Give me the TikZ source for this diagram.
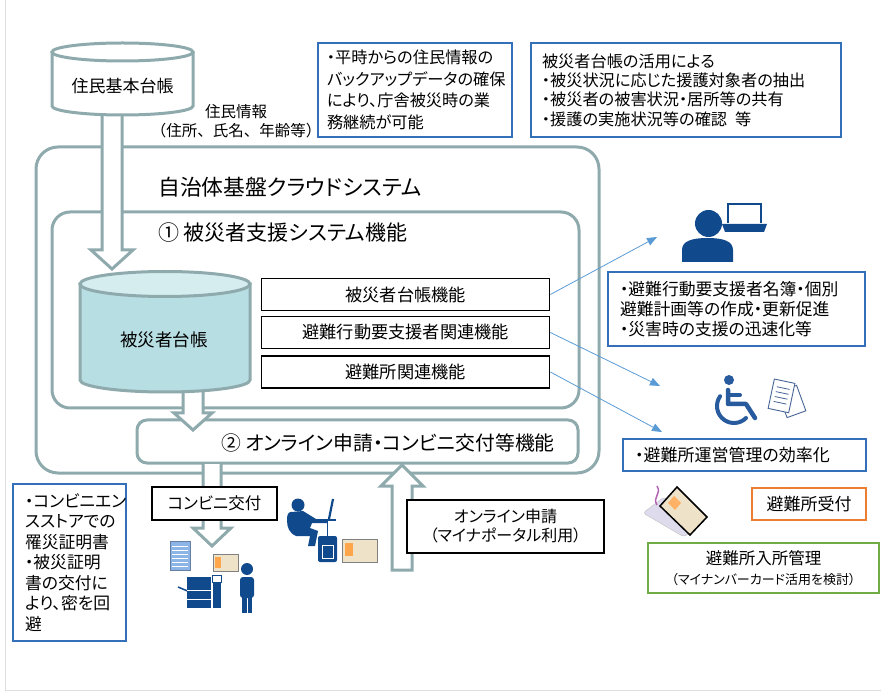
\documentclass[tikz,border=0pt]{standalone}
\usepackage{fontspec}
\setmainfont{Noto Sans CJK JP}[RawFeature=+palt]
\newfontfamily\fullwidth{Noto Sans CJK JP}
\usepackage{xcolor}
\usetikzlibrary{arrows.meta,positioning}

\definecolor{framegray}{RGB}{143,170,173}
\definecolor{dbbody}{RGB}{183,222,226}
\definecolor{dbtop}{RGB}{214,237,240}
\definecolor{noteblue}{RGB}{52,112,185}
\definecolor{linkblue}{RGB}{91,155,213}
\definecolor{iconblue}{RGB}{16,74,140}
\definecolor{chairblue}{RGB}{40,90,158}
\definecolor{docline}{RGB}{70,100,150}
\definecolor{docblue}{RGB}{140,180,230}
\definecolor{cardbeige}{RGB}{238,226,200}
\definecolor{padgray}{RGB}{222,220,236}
\definecolor{orangeline}{RGB}{237,125,49}
\definecolor{greenline}{RGB}{112,173,71}

\newcommand{\jfont}[2]{\fontsize{#1}{#2}\selectfont}

\begin{document}
\begin{tikzpicture}[
  x=1pt, y=-1pt,
  frame/.style={draw=framegray, line width=3pt},
  hollow/.style={draw=framegray, line width=3pt, fill=white, line join=miter},
  dbline/.style={draw=framegray, line width=3pt},
  fnbox/.style={draw, line width=1.2pt, fill=white, minimum width=288pt, minimum height=32pt, font=\jfont{17.2}{20}},
  note/.style={draw=noteblue, line width=1.3pt, fill=white, align=left, inner ysep=0pt},
  plainbox/.style={draw, line width=1.2pt, fill=white, align=center},
  link/.style={draw=linkblue, line width=0.8pt, -{Triangle[length=10pt,width=8pt]}},
  heading/.style={anchor=west, inner sep=0pt},
]
\useasboundingbox (0,0) rectangle (881,692);
\draw[gray!25, line width=1pt] (5,0) -- (5,690) -- (881,690);

% cloud system and its parts
\node[frame, rounded corners=22pt, minimum width=563pt, minimum height=326pt] (cloud) at (317.5,310) {};
\node[frame, rounded corners=18pt, minimum width=527pt, minimum height=196pt] (supportsys) at (315.5,310) {};
\node[frame, fill=white, rounded corners=10pt, minimum width=441pt, minimum height=43pt] (onlinefn) at (357.5,441.5) {};

% hollow arrows
\filldraw[hollow] (102,112) -- (102,250) -- (91,250) -- (112,269) -- (133,250) -- (122,250) -- (122,112);
\filldraw[hollow] (183,385) -- (183,413) -- (174,413) -- (193,430) -- (212,413) -- (203,413) -- (203,385);
\filldraw[hollow] (203,464) -- (203,528) -- (193,528) -- (212,546) -- (231,528) -- (221,528) -- (221,464);
\filldraw[hollow] (392,570) -- (392,486) -- (381,486) -- (402,465) -- (423,486) -- (412,486) -- (412,570) -- cycle;

% resident register
\filldraw[dbline, fill=white] (52,52) -- (52,106) arc[start angle=180, end angle=0, x radius=70.5, y radius=9] -- (193,52);
\draw[dbline] (122.5,52) ellipse[x radius=70.5, y radius=9];
\node[font=\jfont{17}{20}] (resreg) at (122.5,86) {住民基本台帳};
\node[align=center, font=\fullwidth\jfont{15.5}{19}] (resinfo) at (236,121) {住民情報\\（住所、氏名、年齢等）};

% victim ledger
\filldraw[dbline, fill=dbbody] (80,284) -- (80,380) arc[start angle=180, end angle=0, x radius=85, y radius=12] -- (250,284) -- cycle;
\filldraw[dbline, fill=dbtop] (165,284) ellipse[x radius=85, y radius=12.5];
\node[font=\jfont{17.5}{20}] (ledger) at (164,340) {被災者台帳};

\node[heading, font=\jfont{21.8}{24}] (cloudtitle) at (158,187) {自治体基盤クラウドシステム};
\node[heading, font=\jfont{21}{24}] (supporttitle) at (158,233) {① 被災者支援システム機能};
\node[heading, font=\jfont{19.8}{23}] (onlinetitle) at (221,443) {② オンライン申請・コンビニ交付等機能};

\node[fnbox] (fnLedger) at (405.75,294.5) {被災者台帳機能};
\node[fnbox] (fnEvac) at (405.75,332.5) {避難行動要支援者関連機能};
\node[fnbox] (fnShelter) at (405.75,372) {避難所関連機能};

% notes
\node[note, text width=176pt, inner xsep=9pt, minimum height=94pt, font=\jfont{16.2}{21.5}] (backup) at (415,90) {・平時からの住民情報の\\バックアップデータの確保\\により、庁舎被災時の業\\務継続が可能};
\node[note, text width=288pt, inner xsep=11pt, minimum height=94pt, font=\jfont{16.2}{19.3}] (usage) at (686,90) {被災者台帳の活用による\\・被災状況に応じた援護対象者の抽出\\・被災者の被害状況・居所等の共有\\・援護の実施状況等の確認\enspace 等};
\node[note, text width=233pt, inner xsep=12pt, minimum height=74pt, font=\jfont{16.8}{20}] (evacnote) at (736.5,309) {・避難行動要支援者名簿・個別\\避難計画等の作成・更新促進\\・災害時の支援の迅速化等};
\node[note, text width=219pt, inner xsep=12pt, minimum height=32pt, font=\jfont{17}{20}] (shelternote) at (744.5,455) {・避難所運営管理の効率化};
\node[note, text width=89pt, inner xsep=12pt, minimum height=157pt, font=\jfont{16.8}{20.5}] (storenote) at (69.5,562.5) {・コンビニエン\\スストアでの\\罹災証明書\\・被災証明\\書の交付に\\より、密を回\\避};

\node[plainbox, minimum width=125pt, minimum height=33pt, font=\jfont{16.5}{20}] (combini) at (214.5,503.5) {コンビニ交付};
\node[plainbox, minimum width=197pt, minimum height=53pt, font=\jfont{16}{19}] (online) at (505.5,526.5) {オンライン申請\\（マイナポータル利用）};
\node[draw=orangeline, line width=1.3pt, minimum width=114pt, minimum height=32pt, font=\jfont{17}{20}] (reception) at (809,504) {避難所受付};
\node[draw=greenline, line width=1.3pt, minimum width=231pt, minimum height=50pt, align=center, font=\jfont{16.5}{20}] (admission) at (763.5,568) {避難所入所管理\\{\jfont{13}{15}（マイナンバーカード活用を検討）}};

% links to the users
\coordinate (staffpt) at (657,237);
\coordinate (chairpt) at (660,386);
\coordinate (shelterpt) at (662,432);
\draw[link] (fnLedger.east) -- (staffpt);
\draw[link] (fnEvac.east) -- (chairpt);
\draw[link] (fnShelter.east) -- (shelterpt);

% staff with laptop
\fill[iconblue] (708.5,223.5) circle[radius=13.5];
\fill[iconblue] (682,262) -- (682,250) .. controls (682,241) and (692,238) .. (707.5,238) .. controls (723,238) and (733,241) .. (733,250) -- (733,262) -- cycle;
\draw[iconblue, line width=2.5pt] (728,223) -- (728,204) -- (761,204) -- (761,223);
\fill[iconblue] (722,224) -- (767,224) -- (764,232) -- (725,232) -- cycle;

% wheelchair and papers
\fill[chairblue] (729,380) circle[radius=5];
\draw[chairblue, line width=4.5pt, line cap=round, line join=round] (728,390) -- (728,404) -- (746,404) -- (755,418);
\draw[chairblue, line width=4pt, line cap=round] (728,395) -- (740,395);
\draw[chairblue, line width=4pt, line cap=round] (734,406) ++(215:17) arc[start angle=215, end angle=45, radius=17];
\draw[docline, line width=0.9pt, fill=white, rotate around={20:(792,402)}] (782,388) rectangle (802,415);
\begin{scope}[rotate around={-12:(782,396)}]
  \draw[docline, line width=0.9pt, fill=white] (771,381) rectangle (792,411);
  \foreach \ln in {388,393,398,403}
    \draw[docline, line width=0.8pt] (775,\ln) -- (788,\ln);
\end{scope}

% card on reader
\fill[padgray, draw=gray!50, rounded corners=3pt] (643,513) -- (664,497) -- (706,520) -- (684,537) -- cycle;
\filldraw[fill=cardbeige, draw=black, line width=1.5pt] (660,506) -- (677,487) -- (707,517) -- (690,535) -- cycle;
\fill[orange!60] (668,503) -- (674,496) -- (681,503) -- (675,510) -- cycle;
\draw[violet!60, line width=1.5pt] (657,505) .. controls (652,497) and (662,494) .. (657,486);

% convenience store printing
\fill[docblue, draw=docblue!70!black] (170,541) rectangle (190,570);
\foreach \ln in {546,550,...,566}
  \draw[white, line width=0.8pt] (172,\ln) -- (188,\ln);
\draw[gray, fill=cardbeige] (213,554) rectangle (238,571);
\fill[orange!70] (215,557) rectangle (221,568);
\fill[iconblue] (187,577) rectangle (211,608);
\fill[iconblue] (213,583) rectangle (221,608);
\draw[iconblue, line width=1pt] (212,575) rectangle (221,582);
\draw[iconblue, line width=1.5pt] (178,587) -- (190,592);
\draw[white, line width=0.8pt] (187,590) -- (211,590);
\draw[white, line width=0.8pt] (187,599) -- (211,599);
\fill[iconblue] (247,569) circle[radius=6];
\fill[iconblue, rounded corners=3pt] (240,577) rectangle (254,598);
\fill[iconblue] (242,595) rectangle (246.5,613);
\fill[iconblue] (247.5,595) rectangle (252,613);

% online application at home
\fill[iconblue] (298,505) circle[radius=6.5];
\fill[iconblue] (291,512) -- (303,511) -- (316,519) -- (327,519) -- (327,523) -- (312,523) -- (310,528) -- (318,531) -- (315,546) -- (308,546) -- (310,536) -- (296,536) .. controls (289,533) and (287,527) .. (287,520) .. controls (287,515) and (288,512) .. (291,512) -- cycle;
\draw[iconblue, line width=2.2pt] (333,499) -- (329,519);
\draw[iconblue, line width=1.5pt] (322,520) -- (336,520);
\draw[iconblue, line width=1pt] (327,520) -- (327,536);
\fill[iconblue, rounded corners=2pt] (318,536) rectangle (337,562);
\draw[white, line width=0.8pt] (322,545) rectangle (333,558);
\draw[gray, fill=cardbeige] (342,539) rectangle (377,562);
\fill[orange!70] (345,543) rectangle (353,556);
\end{tikzpicture}
\end{document}
